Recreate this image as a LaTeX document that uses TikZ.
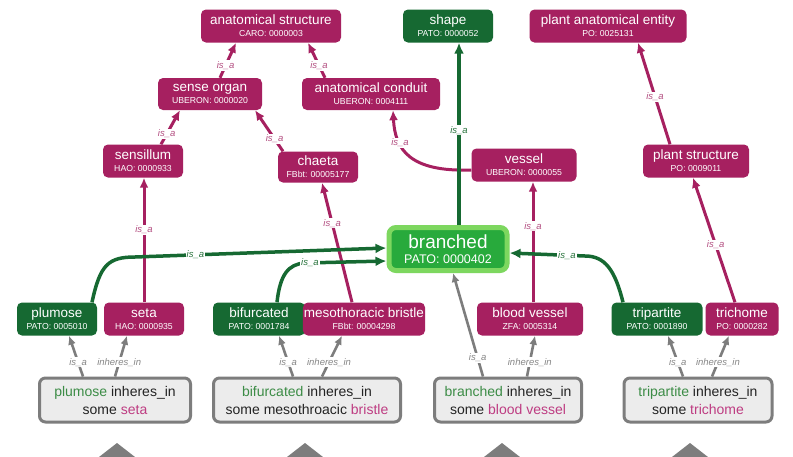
\documentclass[tikz,border=0pt]{standalone}
\usepackage{fontspec}
\setmainfont{Liberation Sans}
\usetikzlibrary{arrows.meta,calc}
\definecolor{mag}{RGB}{166,32,96}
\definecolor{dgreen}{RGB}{22,105,50}
\definecolor{maglbl}{RGB}{180,80,130}
\definecolor{grnlbl}{RGB}{40,115,60}
\definecolor{grylbl}{RGB}{135,135,135}
\definecolor{gword}{RGB}{60,140,70}
\definecolor{mword}{RGB}{190,60,130}
\definecolor{brfill}{RGB}{40,170,60}
\definecolor{brline}{RGB}{125,215,95}
\definecolor{gline}{RGB}{125,125,125}
\definecolor{boxfill}{RGB}{236,236,236}
\definecolor{txt}{RGB}{35,35,35}
\newcommand{\tl}[2]{{\fontsize{13.5}{13.5}\selectfont #1}\\[0pt]{\fontsize{8.7}{9}\selectfont #2}}
\tikzset{
  term/.style={rounded corners=5pt, text=white, align=center, inner sep=1pt, minimum height=33pt},
  magnode/.style={term, fill=mag},
  grnnode/.style={term, fill=dgreen},
  stmt/.style={rounded corners=6pt, draw=gline, line width=3pt, fill=boxfill, text=txt, align=center,
     minimum height=44pt, inner sep=1pt, font=\fontsize{14}{18}\selectfont},
  magedge/.style={draw=mag, line width=3pt, -{Latex[length=10pt,width=9pt]}},
  grnedge/.style={draw=dgreen, line width=3.5pt, -{Latex[length=11pt,width=10pt]}},
  gryedge/.style={draw=gline, line width=2.6pt, -{Latex[length=9pt,width=8pt]}},
  mlbl/.style={fill=white, inner sep=1pt, text=maglbl, font=\itshape\fontsize{9.5}{9.5}\selectfont},
  glbl/.style={fill=white, inner sep=1pt, text=grnlbl, font=\itshape\fontsize{9.5}{9.5}\selectfont},
  ylbl/.style={fill=white, inner sep=1pt, text=grylbl, font=\itshape\fontsize{9.5}{9.5}\selectfont},
  tri/.style={fill=gline, draw=none},
}
\begin{document}
\begin{tikzpicture}[x=1pt,y=-1pt]
\useasboundingbox[fill=white] (0,0) rectangle (793,456);
% top level
\node[magnode, minimum width=140pt] (as) at (271,26) {\tl{anatomical structure}{CARO: 0000003}};
\node[grnnode, minimum width=90pt] (shape) at (448,26) {\tl{shape}{PATO: 0000052}};
\node[magnode, minimum width=157pt] (pae) at (608,26) {\tl{plant anatomical entity}{PO: 0025131}};
\node[magnode, minimum width=104pt, minimum height=32pt] (so) at (210,94) {\tl{sense organ}{UBERON: 0000020}};
\node[magnode, minimum width=138pt, minimum height=32pt] (ac) at (371,94) {\tl{anatomical conduit}{UBERON: 0004111}};
\node[magnode, minimum width=80pt] (sen) at (143,161) {\tl{sensillum}{HAO: 0000933}};
\node[magnode, minimum width=80pt, minimum height=31pt] (cha) at (318,167) {\tl{chaeta}{FBbt: 00005177}};
\node[magnode, minimum width=105pt] (ves) at (524,165) {\tl{vessel}{UBERON: 0000055}};
\node[magnode, minimum width=106pt] (ps) at (696,161) {\tl{plant structure}{PO: 0009011}};
% branched
\node[rounded corners=7pt, draw=brline, line width=5pt, fill=brfill, text=white, align=center,
  minimum width=118pt, minimum height=43pt, inner sep=1pt] (br) at (448,249)
  {{\fontsize{19}{19}\selectfont branched}\\[3pt]{\fontsize{12.5}{13}\selectfont PATO: 0000402}};
% bottom row
\node[grnnode, minimum width=80pt] (plu) at (57,319) {\tl{plumose}{PATO: 0005010}};
\node[magnode, minimum width=80pt] (seta) at (144,319) {\tl{seta}{HAO: 0000935}};
\node[grnnode, minimum width=92pt] (bif) at (259,319) {\tl{bifurcated}{PATO: 0001784}};
\node[magnode, minimum width=112pt] (mb) at (364,319) {\tl{mesothoracic bristle}{FBbt: 00004298}};
\node[magnode, minimum width=106pt] (bv) at (530,319) {\tl{blood vessel}{ZFA: 0005314}};
\node[grnnode, minimum width=91pt] (tri) at (657,319) {\tl{tripartite}{PATO: 0001890}};
\node[magnode, minimum width=73pt] (tric) at (742,319) {\tl{trichome}{PO: 0000282}};
% statements
\node[stmt, minimum width=151pt] (b1) at (115,400) {\textcolor{gword}{plumose} inheres\_in\\some \textcolor{mword}{seta}};
\node[stmt, minimum width=187pt] (b2) at (307,400) {\textcolor{gword}{bifurcated} inheres\_in\\some mesothroacic \textcolor{mword}{bristle}};
\node[stmt, minimum width=147pt] (b3) at (508,400) {\textcolor{gword}{branched} inheres\_in\\some \textcolor{mword}{blood vessel}};
\node[stmt, minimum width=148pt] (b4) at (698,400) {\textcolor{gword}{tripartite} inheres\_in\\some \textcolor{mword}{trichome}};
% triangles
\fill[tri] (117,443) -- (135,457) -- (99,457) -- cycle;
\fill[tri] (305,443) -- (323,457) -- (287,457) -- cycle;
\fill[tri] (502,443) -- (520,457) -- (484,457) -- cycle;
\fill[tri] (690,443) -- (708,457) -- (672,457) -- cycle;
% magenta is_a edges
\draw[magedge] ([xshift=10pt]so.north) -- node[mlbl, pos=0.35] (l1) {is\_a} ([xshift=-35pt]as.south);
\draw[magedge] ([xshift=-46pt]ac.north) -- node[mlbl, pos=0.35] (l2) {is\_a} ([xshift=37pt]as.south);
\draw[magedge] ([xshift=18pt]sen.north) -- node[mlbl, pos=0.3] (l3) {is\_a} ([xshift=-30pt]so.south);
\draw[magedge] ([xshift=-35pt]cha.north) -- node[mlbl, pos=0.3] (l4) {is\_a} ([xshift=45pt]so.south);
\draw[magedge] ([yshift=-5pt]ves.west) .. controls (410,172) and (395,150) .. node[mlbl, pos=0.68] (l5) {is\_a} ([xshift=22pt]ac.south);
\draw[magedge] ([xshift=-26pt]ps.north) -- node[mlbl, pos=0.47] (l6) {is\_a} ([xshift=30pt]pae.south);
\draw[magedge] ([xshift=-7pt]tric.north) -- node[mlbl, pos=0.46] (l7) {is\_a} ([xshift=-3pt]ps.south);
\draw[magedge] (seta.north) -- node[mlbl, pos=0.58] (l8) {is\_a} (seta.north |- sen.south);
\draw[magedge] ([xshift=-12pt]mb.north) -- node[mlbl, pos=0.66] (l9) {is\_a} ([xshift=4pt]cha.south);
\draw[magedge] ([xshift=3pt]bv.north) -- node[mlbl, pos=0.63] (l10) {is\_a} ([xshift=9pt]ves.south);
% green is_a edges
\draw[grnedge] ([xshift=11pt]br.north) -- node[glbl, pos=0.52] (g1) {is\_a} ([xshift=11pt]shape.south);
\draw[grnedge] ([xshift=35pt]plu.north) .. controls (100,265) and (108,257) .. (135,257) -- node[glbl, pos=0.24] (g2) {is\_a} ([yshift=1pt]br.west);
\draw[grnedge] ([xshift=18pt]bif.north) .. controls (280,275) and (288,264) .. (305,263) -- node[glbl, pos=0.06] (g3) {is\_a} ([yshift=-12pt]br.west);
\draw[grnedge] ([xshift=-34pt]tri.north) .. controls (615,270) and (605,256) .. (585,256) -- node[glbl, pos=0.24] (g4) {is\_a} ([yshift=-4pt]br.east);
% grey edges
\draw[gryedge] ([xshift=-32pt]b1.north) -- node[ylbl, pos=0.35] (y1) {is\_a} ([xshift=12pt]plu.south);
\draw[gryedge] (b1.north) -- node[ylbl, pos=0.35] (y2) {inheres\_in} ([xshift=-17pt]seta.south);
\draw[gryedge] ([xshift=-14pt]b2.north) -- node[ylbl, pos=0.35] (y3) {is\_a} ([xshift=20pt]bif.south);
\draw[gryedge] ([xshift=15pt]b2.north) -- node[ylbl, pos=0.35] (y4) {inheres\_in} ([xshift=-22pt]mb.south);
\draw[gryedge] ([xshift=-25pt]b3.north) -- node[ylbl, pos=0.18] (y5) {is\_a} ([xshift=5pt]br.south);
\draw[gryedge] ([xshift=19pt]b3.north) -- node[ylbl, pos=0.35] (y6) {inheres\_in} ([xshift=5pt]bv.south);
\draw[gryedge] ([xshift=-15pt]b4.north) -- node[ylbl, pos=0.35] (y7) {is\_a} ([xshift=11pt]tri.south);
\draw[gryedge] ([xshift=14pt]b4.north) -- node[ylbl, pos=0.35] (y8) {inheres\_in} ([xshift=-13pt]tric.south);
\end{tikzpicture}
\end{document}
